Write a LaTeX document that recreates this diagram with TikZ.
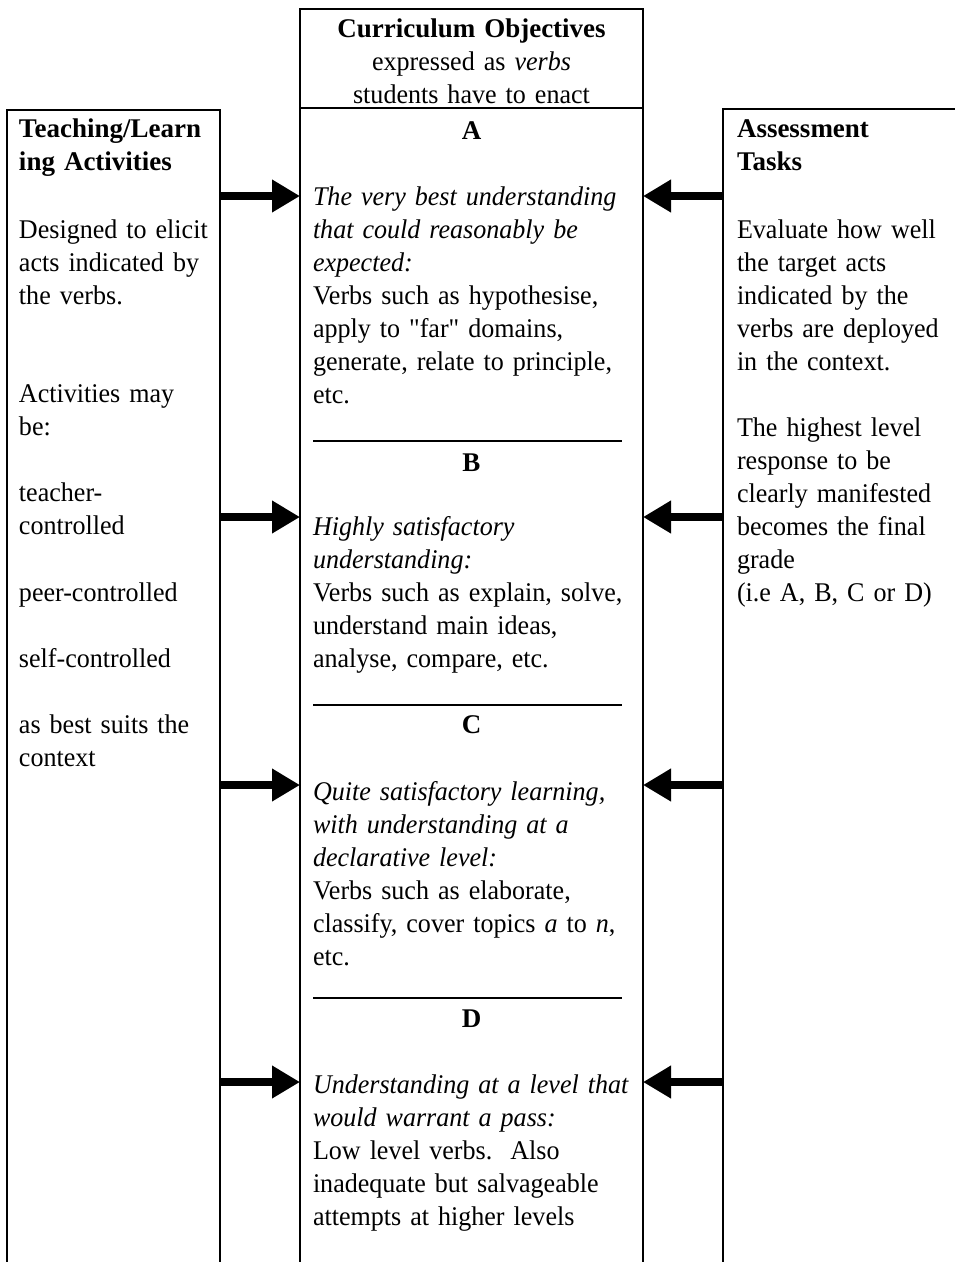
\documentclass[tikz,border=0pt]{standalone}
\usepackage{fontspec}
\setmainfont{Liberation Serif}[UprightFeatures={FakeStretch=0.965},ItalicFeatures={FakeStretch=0.965}]
\newfontfamily\plainq{Liberation Serif}[FakeStretch=0.965]
\usetikzlibrary{arrows.meta}
\begin{document}
\begin{tikzpicture}[x=1pt,y=-1pt,
  every node/.style={inner sep=0pt,outer sep=0pt,font=\fontsize{27pt}{33pt}\selectfont},
  txt/.style={anchor=base west,text width=330pt,align=left},
  ctr/.style={anchor=base,text width=343pt,align=center},
  frame/.style={line width=2.6pt},
  thin/.style={line width=1.6pt},
  bigarrow/.style={line width=8.5pt,-{Triangle[length=28pt,width=31pt]}}]
\useasboundingbox (0,0) rectangle (955,1262);
% frames
\draw[frame] (7,1262) -- (7,110) -- (220,110) -- (220,1262);
\draw[frame] (300,1262) -- (300,9) -- (643,9) -- (643,1262);
\draw[frame] (300,108) -- (643,108);
\draw[frame] (955,109) -- (723,109) -- (723,1262);
% dividers
\draw[thin] (313,441) -- (622,441);
\draw[thin] (313,705) -- (622,705);
\draw[thin] (313,998) -- (622,998);
% left column
\node[txt] (lhead) at (19,137) {\textbf{Teaching/Learn}\\\textbf{ing Activities}};
\node[txt] (l1) at (19,238) {Designed to elicit\\acts indicated by\\the verbs.};
\node[txt] (l2) at (19,402) {Activities may\\be:};
\node[txt] (l3) at (19,501) {teacher-\\controlled};
\node[txt] (l4) at (19,601) {peer-controlled};
\node[txt] (l5) at (19,667) {self-controlled};
\node[txt] (l6) at (19,733) {as best suits the\\context};
% right column
\node[txt] (rhead) at (737,137) {\textbf{Assessment}\\\textbf{Tasks}};
\node[txt] (r1) at (737,238) {Evaluate how well\\the target acts\\indicated by the\\verbs are deployed\\in the context.};
\node[txt] (r2) at (737,436) {The highest level\\response to be\\clearly manifested\\becomes the final\\grade\\(i.e A, B, C or D)};
% middle column
\node[ctr] (mhead) at (471.5,37) {\textbf{Curriculum Objectives}\\expressed as \textit{verbs}\\students have to enact};
\node[ctr] (ha) at (471.5,139) {\textbf{A}};
\node[txt] (ta) at (313,205) {\textit{The very best understanding}\\\textit{that could reasonably be}\\\textit{expected:}\\Verbs such as hypothesise,\\apply to {\plainq"}far{\plainq"} domains,\\generate, relate to principle,\\etc.};
\node[ctr] (hb) at (471.5,471) {\textbf{B}};
\node[txt] (tb) at (313,535) {\textit{Highly satisfactory}\\\textit{understanding:}\\Verbs such as explain, solve,\\understand main ideas,\\analyse, compare, etc.};
\node[ctr] (hc) at (471.5,733) {\textbf{C}};
\node[txt] (tc) at (313,800) {\textit{Quite satisfactory learning,}\\\textit{with understanding at a}\\\textit{declarative level:}\\Verbs such as elaborate,\\classify, cover topics \textit{a} to \textit{n},\\etc.};
\node[ctr] (hd) at (471.5,1027) {\textbf{D}};
\node[txt] (td) at (313,1093) {\textit{Understanding at a level that}\\\textit{would warrant a pass:}\\Low level verbs.\ \ Also\\inadequate but salvageable\\attempts at higher levels};
% arrow end points
\foreach \i/\y in {1/196,2/517,3/785,4/1082}{
  \coordinate (lo\i) at (221,\y);
  \coordinate (mi\i) at (300,\y);
  \coordinate (mo\i) at (643,\y);
  \coordinate (ro\i) at (722,\y);
  \draw[bigarrow] (lo\i) -- (mi\i);
  \draw[bigarrow] (ro\i) -- (mo\i);
}
\end{tikzpicture}
\end{document}
